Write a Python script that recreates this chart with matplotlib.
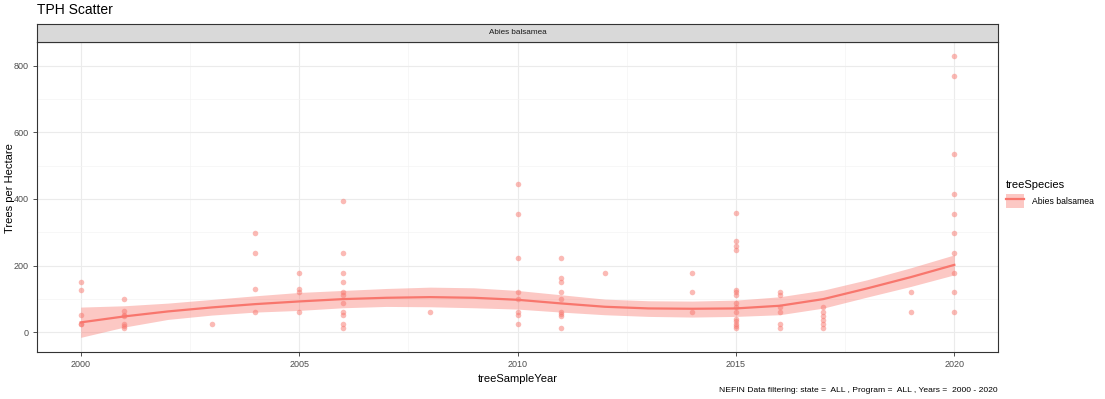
import matplotlib
matplotlib.use("Agg")
import matplotlib.pyplot as plt
from matplotlib.patches import Patch
from matplotlib.lines import Line2D
from matplotlib.legend_handler import HandlerTuple

plt.rcParams['font.family'] = ['Liberation Sans', 'DejaVu Sans']

# scatter points (year, trees per hectare)
tree_year = (
    [2000] * 5 + [2001] * 7 + [2003] + [2004] * 4 + [2005] * 4 + [2006] * 11 + [2008]
    + [2010] * 8 + [2011] * 9 + [2012] + [2014] * 3 + [2015] * 15 + [2016] * 6
    + [2017] * 6 + [2019] * 2 + [2020] * 10
)
tree_tph = (
    [149, 125, 50, 25, 25]
    + [100, 62, 50, 47, 25, 17, 12]
    + [25]
    + [297, 238, 129, 60]
    + [178, 129, 119, 60]
    + [395, 238, 178, 149, 119, 112, 87, 60, 50, 25, 12]
    + [60]
    + [445, 356, 223, 119, 100, 60, 50, 25]
    + [223, 161, 149, 119, 100, 60, 54, 49, 12]
    + [178]
    + [178, 119, 60]
    + [357, 273, 260, 247, 125, 119, 112, 87, 75, 60, 39, 32, 25, 19, 12]
    + [119, 111, 75, 60, 25, 12]
    + [75, 60, 49, 37, 25, 12]
    + [119, 60]
    + [830, 771, 534, 416, 356, 297, 238, 178, 119, 60]
)

# loess smooth and its confidence band
smooth_year = [2000, 2001, 2002, 2003, 2004, 2005, 2006, 2007, 2008, 2009, 2010,
               2011, 2012, 2013, 2014, 2015, 2016, 2017, 2018, 2019, 2020]
smooth_fit = [29, 47, 62, 74, 84, 92, 99, 103, 105, 103, 97,
              86, 76, 71, 70, 71, 79, 99, 131, 165, 202]
smooth_lo = [-16, 15, 38, 51, 60, 65, 73, 77, 76, 73, 69,
             60, 52, 47, 45, 47, 52, 72, 105, 137, 172]
smooth_hi = [75, 79, 87, 98, 109, 119, 125, 131, 135, 133, 125,
             112, 99, 94, 93, 96, 106, 126, 157, 193, 232]

species = "Abies balsamea"
red = "#F8766D"

fig = plt.figure(figsize=(11.05, 3.99), dpi=100)
ax = fig.add_axes([37 / 1105, 47 / 399, 961 / 1105, 310 / 399])

ax.fill_between(smooth_year, smooth_lo, smooth_hi, color=red, alpha=0.4, lw=0, zorder=2)
ax.plot(smooth_year, smooth_fit, color=red, lw=1.6, zorder=3)
ax.scatter(tree_year, tree_tph, s=16, color=red, alpha=0.5, lw=0, zorder=4)

ax.set_xlim(1999, 2021)
ax.set_ylim(-60, 872)
ax.set_xticks([2000, 2005, 2010, 2015, 2020])
ax.set_xticks([2002.5, 2007.5, 2012.5, 2017.5], minor=True)
ax.set_yticks([0, 200, 400, 600, 800])
ax.set_yticks([100, 300, 500, 700], minor=True)
ax.grid(which='major', color='#EBEBEB', lw=0.8, zorder=0)
ax.grid(which='minor', color='#F4F4F4', lw=0.5, zorder=0)
ax.set_axisbelow(True)
ax.tick_params(which='major', length=3, width=0.6, color='#333333', labelsize=6.5,
               labelcolor='#4D4D4D', pad=3)
ax.tick_params(which='minor', length=0)
for s in ax.spines.values():
    s.set_color('#333333')
    s.set_linewidth(0.8)
ax.set_xlabel("treeSampleYear", fontsize=8, labelpad=3)
fig.text(10 / 1105, 1 - 188 / 399, "Trees per Hectare", fontsize=8, rotation=90,
         ha='center', va='center')

# facet strip
strip = fig.add_axes([37 / 1105, 357 / 399, 961 / 1105, 18 / 399])
strip.set_facecolor('#D9D9D9')
strip.set_xticks([])
strip.set_yticks([])
for s in strip.spines.values():
    s.set_color('#333333')
    s.set_linewidth(0.8)
strip.text(0.5, 0.5, species, ha='center', va='center', fontsize=5.9, color='#1A1A1A',
           transform=strip.transAxes)

fig.text(37 / 1105, 1 - 10 / 399, "TPH Scatter", fontsize=10, va='center', ha='left')

# legend
band = Patch(facecolor=red, alpha=0.4, edgecolor='none')
line = Line2D([], [], color=red, lw=1.6)
fig.legend([(band, line)], [species], handler_map={tuple: HandlerTuple(ndivide=1, pad=0)},
           title="treeSpecies", loc='upper left', bbox_to_anchor=(998 / 1105, 1 - 172 / 399),
           frameon=False, fontsize=6.2, title_fontsize=8, handlelength=2.1, handleheight=2.2,
           handletextpad=0.9, alignment='left')

fig.text(998 / 1105, 1 - 390 / 399,
         "NEFIN Data filtering: state =  ALL , Program =  ALL , Years =  2000 - 2020",
         fontsize=6.1, ha='right', va='center')

fig.savefig("out.png", dpi=100)
